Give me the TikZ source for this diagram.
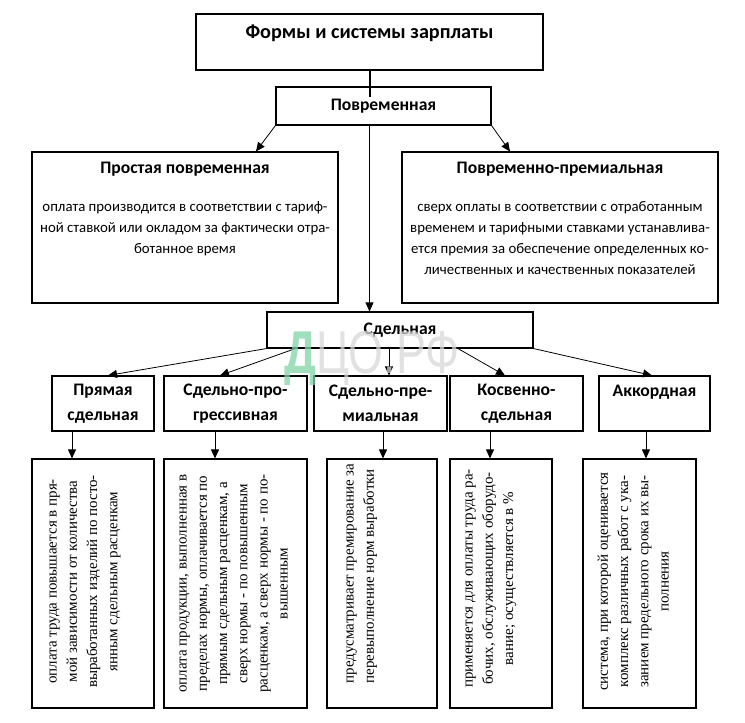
\documentclass[tikz,border=0pt]{standalone}
\usepackage{fontspec}
\setmainfont{Carlito}
\newfontfamily\serifbody{Liberation Serif}
\newfontfamily\wmfont{Liberation Sans}
\usetikzlibrary{arrows.meta}

\definecolor{wmgreen}{RGB}{130,212,165}
\definecolor{wmgrey}{RGB}{215,215,215}

\tikzset{
  box/.style={draw, line width=1.1pt, inner sep=0pt},
  arr/.style={-{Triangle[width=8pt,length=9pt]}, line width=0.8pt},
  head/.style={font=\bfseries\fontsize{17.6}{25}\selectfont, align=center, inner sep=0pt},
  body/.style={font=\fontsize{14.8}{21}\selectfont, align=center, inner sep=0pt},
  vtext/.style={rotate=90, anchor=north, inner sep=0pt, font=\serifbody\fontsize{15}{20.2}\selectfont, align=center},
}

\begin{document}
\begin{tikzpicture}[x=1pt, y=-1pt]
\useasboundingbox (0,0) rectangle (745,723);

% forms and systems
\node[box, minimum width=347pt, minimum height=56pt] (form) at (369.5,42) {};
\node[head, font=\bfseries\fontsize{20.2}{24}\selectfont] (formlbl) at (369.5,33) {Формы и системы зарплаты};

% time-based wages
\node[box, head, minimum width=215pt, minimum height=38pt] (time) at (383.5,106) {Повременная};
\node[box, minimum width=306pt, minimum height=151pt] (simple) at (185,227.5) {};
\node[head] (simplehd) at ([yshift=-18pt]simple.north) {Простая повременная};
\node[body, anchor=north] (simplebd) at ([yshift=-50pt]simple.north)
  {оплата производится в соответствии с тариф-\\ной ставкой или окладом за фактически отра-\\ботанное время};
\node[box, minimum width=316pt, minimum height=151pt] (bonus) at (560,227.5) {};
\node[head] (bonushd) at ([yshift=-18pt]bonus.north) {Повременно-премиальная};
\node[body, anchor=north] (bonusbd) at ([yshift=-50pt]bonus.north)
  {сверх оплаты в соответствии с отработанным\\временем и тарифными ставками устанавлива-\\ется премия за обеспечение определенных ко-\\личественных и качественных показателей};

% piece wages
\node[box, head, minimum width=266pt, minimum height=36pt] (piece) at (400,330) {Сдельная};
\node[box, head, minimum width=102pt, minimum height=55pt] (direct) at (103,403.5) {Прямая\\сдельная};
\node[box, head, minimum width=143pt, minimum height=55pt] (progr) at (235.5,403.5) {Сдельно-про-\\грессивная};
\node[box, head, minimum width=133pt, minimum height=55pt] (prem) at (380.5,403.5) {Сдельно-пре-\\миальная};
\node[box, head, minimum width=133pt, minimum height=55pt] (indir) at (516.5,403.5) {Косвенно-\\сдельная};
\node[box, head, minimum width=111pt, minimum height=55pt] (chord) at (654.5,403.5) {Аккордная\\\mbox{}};

% descriptions
\node[box, minimum width=122pt, minimum height=249pt] (directd) at (93,583.5) {};
\node[box, minimum width=143pt, minimum height=249pt] (progrd) at (235.5,583.5) {};
\node[box, minimum width=110pt, minimum height=249pt] (premd) at (382,583.5) {};
\node[box, minimum width=102pt, minimum height=249pt] (indird) at (501,583.5) {};
\node[box, minimum width=113pt, minimum height=249pt] (chordd) at (639.5,583.5) {};
\node[vtext] (directtx) at ([xshift=18pt, yshift=2pt]directd.west)
  {оплата труда повышается в пря-\\мой зависимости от количества\\выработанных изделий по посто-\\янным сдельным расценкам};
\node[vtext] (progrtx) at ([xshift=16pt]progrd.west)
  {оплата продукции, выполненная в\\пределах нормы, оплачивается по\\прямым сдельным расценкам, а\\сверх нормы - по повышенным\\расценкам, а сверх нормы - по по-\\вышенным};
\node[vtext, align=left] (premtx) at ([xshift=20pt, yshift=10pt]premd.west)
  {предусматривает премирование за\\перевыполнение норм выработки};
\node[vtext] (indirtx) at ([xshift=16pt, yshift=5pt]indird.west)
  {применяется для оплаты труда ра-\\бочих, обслуживающих оборудо-\\вание; осуществляется в \%};
\node[vtext] (chordtx) at ([xshift=15pt, yshift=2pt]chordd.west)
  {система, при которой оценивается\\комплекс различных работ с ука-\\занием предельного срока их вы-\\полнения};

% connectors
\draw[line width=2pt] (form.south) -- ([yshift=9pt]form.south |- time.center);
\draw[arr] (form.south |- time.south) -- (form.south |- piece.north);
\draw[arr] (time.south west) -- ([xshift=71pt]simple.north);
\draw[arr] (time.south east) -- ([xshift=-50pt]bonus.north);
\draw[arr] (piece.south west) -- ([xshift=5pt]direct.north);
\draw[arr] ([xshift=29pt]piece.south west) -- ([xshift=-15.5pt]progr.north);
\draw[arr] ([xshift=-11pt]piece.south) -- ([xshift=8.5pt]prem.north);
\draw[arr] ([xshift=58pt]piece.south) -- ([xshift=-11.5pt]indir.north);
\draw[arr] (piece.south east) -- ([xshift=-2.5pt]chord.north);
\draw[arr] ([xshift=-31pt]direct.south) -- ([xshift=-21pt]directd.north);
\draw[arr] ([xshift=-20.5pt]progr.south) -- ([xshift=-20.5pt]progrd.north);
\draw[arr] ([xshift=2.5pt]prem.south) -- ([xshift=1pt]premd.north);
\draw[arr] ([xshift=-26.5pt]indir.south) -- ([xshift=-11pt]indird.north);
\draw[arr] ([xshift=-8.5pt]chord.south) -- ([xshift=6.5pt]chordd.north);

% watermark
\node[inner sep=0pt, text opacity=0.75, font=\wmfont\fontsize{56}{56}\selectfont] (wmark) at (372,358)
  {\scalebox{0.8}[1.08]{\textcolor{wmgreen}{\bfseries Д}\textcolor{wmgrey}{ЦО.РФ}}};
\end{tikzpicture}
\end{document}
